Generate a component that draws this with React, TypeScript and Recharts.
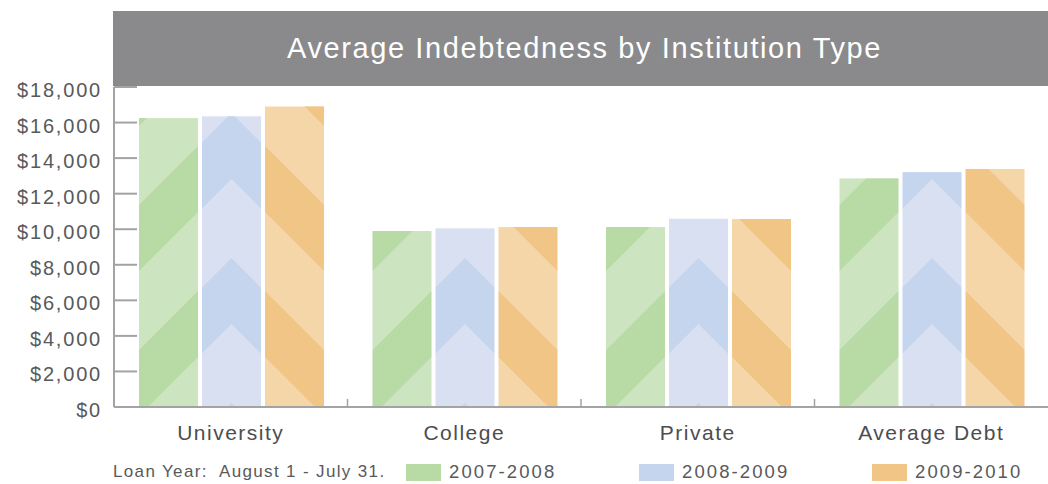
import React from "react";
import { Bar, BarChart, XAxis, YAxis } from "recharts";

const categories = ["University", "College", "Private", "Average Debt"];
const debt2007 = [16250, 9900, 10120, 12860];
const debt2008 = [16350, 10050, 10590, 13200];
const debt2009 = [16900, 10120, 10570, 13390];
const seriesNames = ["2007-2008", "2008-2009", "2009-2010"];
const yTicks = [0, 2000, 4000, 6000, 8000, 10000, 12000, 14000, 16000, 18000];

const light = ["#cce5c0", "#d8e0f2", "#f5d6a9"];
const dark = ["#b8dba6", "#c6d5ee", "#f0c585"];

const data = categories.map((name, i) => ({
  name,
  a: debt2007[i],
  b: debt2008[i],
  c: debt2009[i],
}));

const FONT = "'Liberation Sans', Arial, sans-serif";
const TEXT = "#58595b";
const AXIS = "#a3a3a3";
const PERIOD = 145;
const BAND = 66;

// stripe polygons anchored at each bar's bottom edge
function stripedShape(kind: number) {
  return (props: any) => {
    const { x, y, width: w, height: h, index } = props;
    if (!h || h <= 0) return null;
    const bottom = y + h;
    const id = `clip-${kind}-${index}`;
    const polys: string[] = [];
    for (let k = -1; k < 4; k++) {
      if (kind === 1) {
        const c1 = 83 + PERIOD * k;
        const c2 = c1 + BAND;
        const cx = x + w / 2;
        polys.push(
          [
            [x, bottom - c1 + w / 2],
            [cx, bottom - c1],
            [x + w, bottom - c1 + w / 2],
            [x + w, bottom - c2 + w / 2],
            [cx, bottom - c2],
            [x, bottom - c2 + w / 2],
          ]
            .map((p) => p.join(","))
            .join(" ")
        );
      } else {
        const c1 = -9 + PERIOD * k;
        const c2 = c1 + BAND;
        const pts =
          kind === 0
            ? [
                [x, bottom - c1],
                [x + w, bottom - c1 - w],
                [x + w, bottom - c2 - w],
                [x, bottom - c2],
              ]
            : [
                [x + w, bottom - c1],
                [x, bottom - c1 - w],
                [x, bottom - c2 - w],
                [x + w, bottom - c2],
              ];
        polys.push(pts.map((p) => p.join(",")).join(" "));
      }
    }
    return (
      <g>
        <defs>
          <clipPath id={id}>
            <rect x={x} y={y} width={w} height={h} />
          </clipPath>
        </defs>
        <rect x={x} y={y} width={w} height={h} fill={light[kind]} />
        <g clipPath={`url(#${id})`}>
          {polys.map((p, i) => (
            <polygon key={i} points={p} fill={dark[kind]} />
          ))}
        </g>
      </g>
    );
  };
}

function YTick({ x, y, payload }: any) {
  return (
    <g>
      <text
        x={x + 2}
        y={y + 10}
        textAnchor="end"
        fill={TEXT}
        fontFamily={FONT}
        fontSize={20}
        letterSpacing={1.8}
      >
        {"$" + payload.value.toLocaleString("en-US")}
      </text>
      {payload.value > 0 && (
        <line x1={x + 14} x2={x + 37} y1={y} y2={y} stroke={AXIS} strokeWidth={2} />
      )}
    </g>
  );
}

function XTick({ x, y, payload, index }: any) {
  const band = (1048 - 114) / categories.length;
  return (
    <g>
      <text
        x={x}
        y={y + 33}
        textAnchor="middle"
        fill="#4d4d4f"
        fontFamily={FONT}
        fontSize={21}
        letterSpacing={1.5}
      >
        {payload.value}
      </text>
      {index > 0 && (
        <line
          x1={x - band / 2}
          x2={x - band / 2}
          y1={y}
          y2={y - 8}
          stroke={AXIS}
          strokeWidth={1.5}
        />
      )}
    </g>
  );
}

export default function App() {
  return (
    <div style={{ position: "absolute", left: 0, top: 0, width: 1048, height: 484, background: "#fff" }}>
      <div
        style={{
          position: "absolute",
          left: 113,
          top: 11,
          width: 935,
          height: 75,
          background: "#8a8a8c",
          color: "#fff",
          fontFamily: FONT,
          fontSize: 29,
          letterSpacing: 1.6,
          display: "flex",
          alignItems: "center",
          justifyContent: "center",
          paddingLeft: 8,
          boxSizing: "border-box",
        }}
      >
        Average Indebtedness by Institution Type
      </div>
      <BarChart
        width={1048}
        height={484}
        data={data}
        margin={{ top: 87, right: 0, bottom: 37, left: 0 }}
        barCategoryGap={25}
        barGap={4}
      >
        <XAxis
          dataKey="name"
          height={40}
          tickLine={false}
          tickSize={0}
          tickMargin={0}
          axisLine={{ stroke: AXIS, strokeWidth: 2 }}
          tick={<XTick />}
          interval={0}
        />
        <YAxis
          width={114}
          domain={[0, 18000]}
          ticks={yTicks}
          tickLine={false}
          tickSize={0}
          tickMargin={14}
          axisLine={{ stroke: AXIS, strokeWidth: 2 }}
          tick={<YTick />}
          interval={0}
        />
        <Bar dataKey="a" name={seriesNames[0]} shape={stripedShape(0)} isAnimationActive={false} />
        <Bar dataKey="b" name={seriesNames[1]} shape={stripedShape(1)} isAnimationActive={false} />
        <Bar dataKey="c" name={seriesNames[2]} shape={stripedShape(2)} isAnimationActive={false} />
      </BarChart>
      <div
        style={{
          position: "absolute",
          left: 113,
          top: 462,
          fontFamily: FONT,
          fontSize: 17,
          letterSpacing: 1.35,
          color: TEXT,
          whiteSpace: "pre",
        }}
      >
        {"Loan Year:  August 1 - July 31."}
      </div>
      {seriesNames.map((s, i) => (
        <div
          key={s}
          style={{
            position: "absolute",
            left: 406 + i * 233,
            top: 461,
            display: "flex",
            alignItems: "center",
            fontFamily: FONT,
            fontSize: 18.5,
            letterSpacing: 2.1,
            color: TEXT,
          }}
        >
          <span style={{ display: "inline-block", width: 35, height: 17, background: dark[i], marginRight: 8 }} />
          {s}
        </div>
      ))}
    </div>
  );
}
